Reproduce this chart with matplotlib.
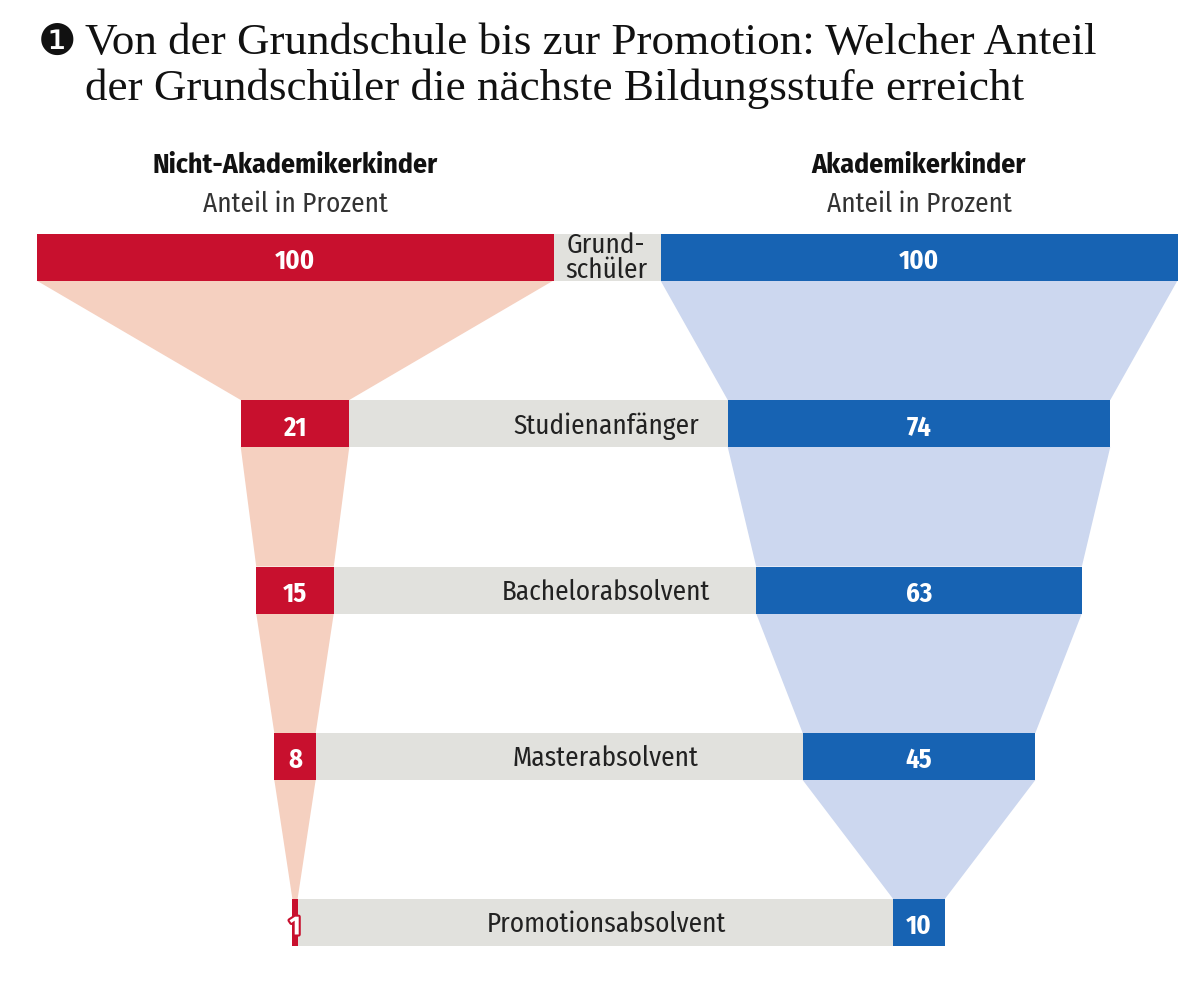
import matplotlib
matplotlib.use("Agg")
import matplotlib.pyplot as plt
import matplotlib.patheffects as pe

# ---- data ----
stages = ["Grund-\nschüler", "Studienanfänger", "Bachelorabsolvent", "Masterabsolvent", "Promotionsabsolvent"]
non_academic = [100, 21, 15, 8, 1]
academic = [100, 74, 63, 45, 10]
title_lines = ["Von der Grundschule bis zur Promotion: Welcher Anteil",
               "der Grundschüler die nächste Bildungsstufe erreicht"]
title_mark = "\u2776"
left_head = "Nicht-Akademikerkinder"
right_head = "Akademikerkinder"
sub_head = "Anteil in Prozent"

# ---- style ----
RED = "#c8102e"
BLUE = "#1763b3"
PEACH = "#f5d0c0"
LBLUE = "#ccd7ef"
GREY = "#e1e1dd"
COND = ["Fira Sans Condensed", "PT Sans Narrow", "Liberation Sans Narrow", "DejaVu Sans"]
SERIF = ["Liberation Serif", "DejaVu Serif"]

W, H = 1200, 989
fig = plt.figure(figsize=(W / 100, H / 100), dpi=100)
ax = fig.add_axes([0, 0, 1, 1])
ax.set_xlim(0, W)
ax.set_ylim(H, 0)
ax.axis("off")

scale = 5.17          # px per percent
lc, rc = 295, 919     # funnel centres
mid = 606
row_y = [257, 423.5, 590, 756.5, 922.5]
bh = 47

# grey bands
for y in row_y:
    ax.add_patch(plt.Rectangle((lc, y - bh / 2), rc - lc, bh, color=GREY, zorder=1, lw=0))

# funnels
for vals, c, col in [(non_academic, lc, PEACH), (academic, rc, LBLUE)]:
    for i in range(len(vals) - 1):
        w0 = vals[i] * scale / 2
        w1 = vals[i + 1] * scale / 2
        y0 = row_y[i] + bh / 2
        y1 = row_y[i + 1] - bh / 2
        ax.fill([c - w0, c + w0, c + w1, c - w1], [y0, y0, y1, y1], color=col, lw=0, zorder=1)

# bars
for vals, c, col in [(non_academic, lc, RED), (academic, rc, BLUE)]:
    for v, y in zip(vals, row_y):
        w = v * scale
        ax.add_patch(plt.Rectangle((c - w / 2, y - bh / 2), w, bh, color=col, lw=0, zorder=2))
        kw = dict(ha="center", va="baseline", color="white", fontsize=19,
                  fontweight="bold", family=COND, zorder=3)
        if v < 5:
            kw["path_effects"] = [pe.withStroke(linewidth=3, foreground=col)]
        ax.text(c, y + 12, str(v), **kw)

# stage labels
for s, y in zip(stages, row_y):
    if "\n" in s:
        ax.text(mid, y + 1, s, ha="center", va="center", color="#222222",
                fontsize=19.5, family=COND, zorder=3, linespacing=0.92)
    else:
        ax.text(mid, y + 10, s, ha="center", va="baseline", color="#222222",
                fontsize=19.5, family=COND, zorder=3)

# headers
for c, h in [(lc, left_head), (rc, right_head)]:
    ax.text(c, 173, h, ha="center", va="baseline", fontsize=20, fontweight="bold",
            family=COND, color="#111111")
    ax.text(c, 212, sub_head, ha="center", va="baseline", fontsize=19.5,
            family=COND, color="#333333")

# title
ax.text(38, 55, title_mark, ha="left", va="baseline", fontsize=31,
        family=["DejaVu Sans"], color="#111111")
for i, line in enumerate(title_lines):
    ax.text(85, 54 + i * 46, line, ha="left", va="baseline", fontsize=32.5,
            family=SERIF, color="#111111")

fig.savefig("out.png", dpi=100)
